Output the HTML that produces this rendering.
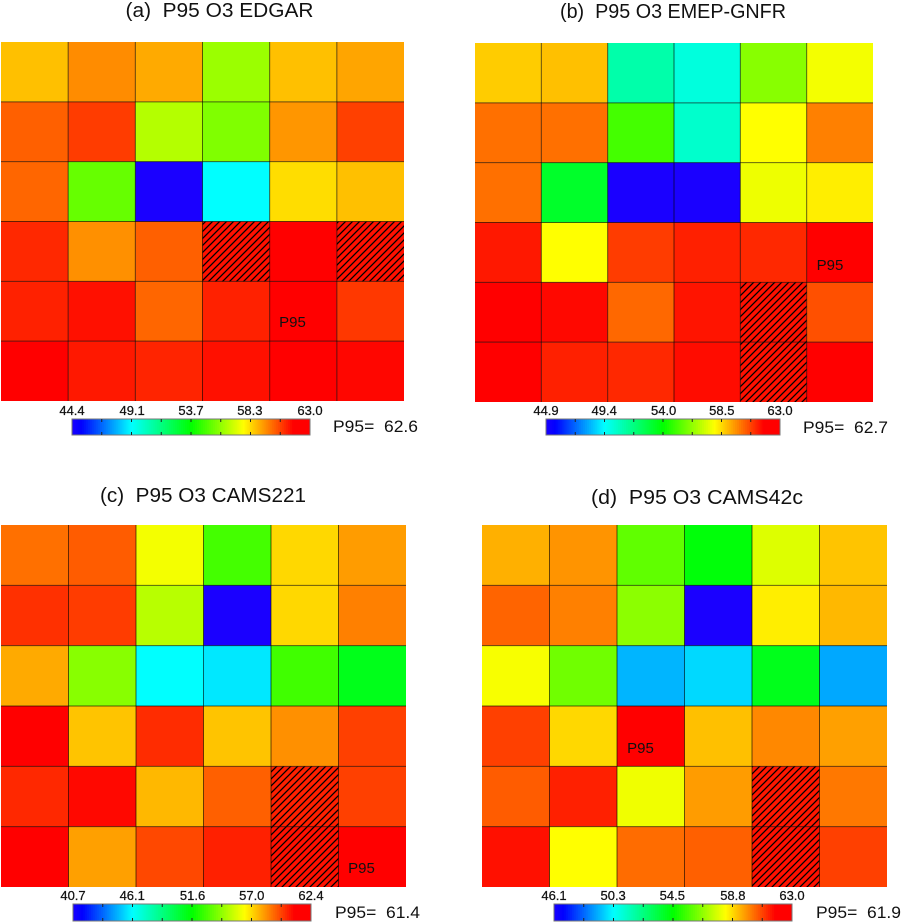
<!DOCTYPE html>
<html lang="en">
<head>
<meta charset="utf-8">
<title>P95 O3 comparison</title>
<style>
html,body{margin:0;padding:0;background:#fff;width:902px;height:922px;overflow:hidden}
svg{display:block;filter:blur(.35px)}
text{font-family:"Liberation Sans",sans-serif;fill:#111;white-space:pre}
</style>
</head>
<body>
<svg id="chart" xmlns="http://www.w3.org/2000/svg" width="902" height="922" viewBox="0 0 902 922">
<defs>
<pattern id="hatch" patternUnits="userSpaceOnUse" width="7" height="7">
<path d="M-1 1L1 -1M0 7L7 0M6 8L8 6" stroke="#000" stroke-width="1.3" fill="none"/>
</pattern>
</defs>
</svg>
<script>
// Data: rows top to bottom, columns left to right
const valuesEdgar = [
  [58.76,59.55,59.09,56.19,58.76,59.17],
  [60.23,60.78,56.59,55.75,59.40,60.72],
  [60.14,55.34,44.40,49.05,58.31,58.76],
  [61.09,59.49,60.23,61.45,62.00,61.45],
  [61.20,61.45,60.14,61.20,62.60,60.84],
  [62.00,61.33,61.15,61.45,62.10,61.60]
];
const valuesEmep = [
  [58.69,58.87,50.93,50.03,56.07,57.76],
  [60.06,60.06,55.01,50.33,57.93,59.82],
  [60.06,53.20,44.90,44.90,57.67,58.18],
  [61.37,57.93,60.84,61.25,61.13,62.70],
  [62.20,61.61,60.18,61.43,61.49,60.54],
  [62.30,61.25,61.13,61.55,61.49,62.30]
];
const valuesCams221 = [
  [58.88,59.24,56.12,52.82,57.02,58.09],
  [60.02,59.81,55.00,40.70,57.02,58.59],
  [57.84,54.10,46.13,45.72,52.75,51.00],
  [61.20,57.38,60.09,57.38,58.31,59.74],
  [60.16,60.74,57.59,59.16,60.31,59.74],
  [61.10,58.02,59.59,60.31,60.59,61.40]
];
const valuesCams42c = [
  [59.37,59.76,55.95,54.40,57.77,59.09],
  [60.43,60.04,56.59,46.10,58.51,59.26],
  [58.17,56.18,49.29,49.79,54.10,49.12],
  [60.93,58.81,61.90,59.15,59.93,59.59],
  [60.54,61.37,58.05,59.65,61.49,60.15],
  [61.60,58.27,60.32,60.48,61.60,60.93]
];
const hatchEdgar = [[3,3],[3,5]];
const hatchEmep = [[4,4],[5,4]];
const hatchCams221 = [[4,4],[5,4]];
const hatchCams42c = [[4,4],[5,4]];
const ticksEdgar = ["44.4","49.1","53.7","58.3","63.0"];
const ticksEmep = ["44.9","49.4","54.0","58.5","63.0"];
const ticksCams221 = ["40.7","46.1","51.6","57.0","62.4"];
const ticksCams42c = ["46.1","50.3","54.5","58.8","63.0"];
const meanEdgar = 62.6;
const meanEmep = 62.7;
const meanCams221 = 61.4;
const meanCams42c = 61.9;

// Colour scale: position on the colour bar to rainbow colour
const colourStops = [[0,[26,0,255]],[.04,[0,0,255]],[.25,[0,255,255]],[.5,[0,255,0]],[.72,[255,255,0]],[.93,[255,0,0]],[1,[255,0,0]]];
function colourAt(f){
  f = Math.max(0, Math.min(1, f));
  for(let i = 1; i < colourStops.length; i++){
    if(f <= colourStops[i][0]){
      const a = colourStops[i-1], b = colourStops[i];
      const t = (f - a[0]) / (b[0] - a[0]);
      const c = a[1].map((v,k) => Math.round(v + (b[1][k] - v) * t));
      return 'rgb(' + c.join(',') + ')';
    }
  }
  return 'rgb(255,0,0)';
}

const panels = [
  {key:'edgar', title:'(a)  P95 O3 EDGAR', titleX:219.5, titleY:17, titleW:188, values:valuesEdgar, hatch:hatchEdgar, ticks:ticksEdgar, mean:meanEdgar,
   grid:{l:1,r:404,t:42,b:401}, bar:{l:72,r:310,t:419,b:435}, labelX:292.5, labelY:327, meanX:333, meanY:432},
  {key:'emep', title:'(b)  P95 O3 EMEP-GNFR', titleX:673, titleY:18, titleW:226, values:valuesEmep, hatch:hatchEmep, ticks:ticksEmep, mean:meanEmep,
   grid:{l:475,r:873,t:43,b:402}, bar:{l:546,r:780,t:419,b:435}, labelX:830, labelY:270, meanX:803, meanY:433},
  {key:'cams221', title:'(c)  P95 O3 CAMS221', titleX:203, titleY:502, titleW:206, values:valuesCams221, hatch:hatchCams221, ticks:ticksCams221, mean:meanCams221,
   grid:{l:1,r:406,t:525,b:887}, bar:{l:73,r:311,t:904,b:921}, labelX:361.5, labelY:873, meanX:335, meanY:918},
  {key:'cams42c', title:'(d)  P95 O3 CAMS42c', titleX:697, titleY:504, titleW:212, values:valuesCams42c, hatch:hatchCams42c, ticks:ticksCams42c, mean:meanCams42c,
   grid:{l:482,r:887,t:525,b:887}, bar:{l:554,r:792,t:904,b:921}, labelX:640.5, labelY:753, meanX:816, meanY:918}
];

const NS = 'http://www.w3.org/2000/svg';
const root = document.getElementById('chart');
function make(tag, attrs, parent){
  const node = document.createElementNS(NS, tag);
  for(const k in attrs){ node.setAttribute(k, attrs[k]); }
  parent.appendChild(node);
  return node;
}

panels.forEach(function(p){
  const lo = parseFloat(p.ticks[0]);
  const hi = parseFloat(p.ticks[p.ticks.length-1]);
  const frac = v => (v - lo) / (hi - lo);
  const rows = p.values.length;
  const cols = p.values[0].length;
  const xCell = c => p.grid.l + (p.grid.r - p.grid.l) * c / cols;
  const yCell = r => p.grid.t + (p.grid.b - p.grid.t) * r / rows;
  const xBar = f => p.bar.l + (p.bar.r - p.bar.l) * f;

  const g = make('g', {}, root);
  
  

  const title = make('text', {x:p.titleX, y:p.titleY, 'text-anchor':'middle', 'font-size':20, textLength:p.titleW, lengthAdjust:'spacingAndGlyphs'}, g);
  title.textContent = p.title;
  
  

  // Heatmap cells
  p.values.forEach(function(row, r){
    row.forEach(function(v, c){
      const cell = make('rect', {x:xCell(c), y:yCell(r), width:xCell(c+1)-xCell(c), height:yCell(r+1)-yCell(r), fill:colourAt(frac(v))}, g);
      
      
    });
  });

  // Hatched cells
  p.hatch.forEach(function(h){
    const hatchCell = make('rect', {x:xCell(h[1]), y:yCell(h[0]), width:xCell(h[1]+1)-xCell(h[1]), height:yCell(h[0]+1)-yCell(h[0]), fill:'url(#hatch)'}, g);
    
    
  });

  // Grid lines
  for(let c = 1; c < cols; c++){
    const line = make('line', {x1:xCell(c), x2:xCell(c), y1:p.grid.t, y2:p.grid.b, stroke:'#000', 'stroke-opacity':.6, 'stroke-width':1}, g);
    
    
  }
  for(let r = 1; r < rows; r++){
    const line = make('line', {x1:p.grid.l, x2:p.grid.r, y1:yCell(r), y2:yCell(r), stroke:'#000', 'stroke-opacity':.6, 'stroke-width':1}, g);
    
    
  }

  // In-cell label
  const label = make('text', {x:p.labelX, y:p.labelY, 'text-anchor':'middle', 'font-size':15}, g);
  label.textContent = 'P95';
  
  

  // Colour bar
  const barSteps = 120;
  for(let i = 0; i < barSteps; i++){
    const seg = make('rect', {x:xBar(i/barSteps), y:p.bar.t, width:xBar((i+1)/barSteps)-xBar(i/barSteps)+.5, height:p.bar.b-p.bar.t, fill:colourAt((i+.5)/barSteps)}, g);
    
    
  }
  const frame = make('rect', {x:p.bar.l, y:p.bar.t, width:p.bar.r-p.bar.l, height:p.bar.b-p.bar.t, fill:'none', stroke:'#777', 'stroke-width':1}, g);
  
  

  const minorPerMajor = 2;
  const tickCount = (p.ticks.length - 1) * minorPerMajor;
  for(let i = 1; i < tickCount; i++){
    const x = xBar(i / tickCount);
    const top = make('line', {x1:x, x2:x, y1:p.bar.t, y2:p.bar.t+3, stroke:'#222', 'stroke-width':1}, g);
    
    
    const bottom = make('line', {x1:x, x2:x, y1:p.bar.b-3, y2:p.bar.b, stroke:'#222', 'stroke-width':1}, g);
    
    
  }
  p.ticks.forEach(function(t){
    const tick = make('text', {x:xBar(frac(parseFloat(t))), y:p.bar.t-4, 'text-anchor':'middle', 'font-size':13, stroke:'#111', 'stroke-width':.25}, g);
    tick.textContent = t;
    
    
  });

  const mean = make('text', {x:p.meanX, y:p.meanY, 'font-size':17, textLength:85, lengthAdjust:'spacingAndGlyphs'}, g);
  mean.textContent = 'P95=  ' + p.mean.toFixed(1);
  
  
});
</script>
</body>
</html>
